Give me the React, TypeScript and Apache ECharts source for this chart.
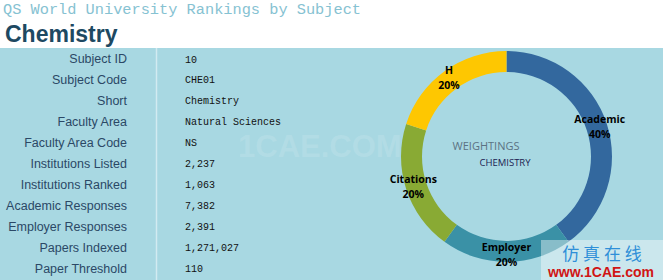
import React, { useEffect, useRef } from "react";
import * as echarts from "echarts";

const pageTitle = "QS World University Rankings by Subject";
const subjectTitle = "Chemistry";
const fieldLabels = [
  "Subject ID",
  "Subject Code",
  "Short",
  "Faculty Area",
  "Faculty Area Code",
  "Institutions Listed",
  "Institutions Ranked",
  "Academic Responses",
  "Employer Responses",
  "Papers Indexed",
  "Paper Threshold",
];
const fieldValues = [
  "10",
  "CHE01",
  "Chemistry",
  "Natural Sciences",
  "NS",
  "2,237",
  "1,063",
  "7,382",
  "2,391",
  "1,271,027",
  "110",
];
const weightNames = ["Academic", "Employer", "Citations", "H"];
const weightValues = [40, 20, 20, 20];
const weightColors = ["#33689e", "#3a91a6", "#89aa34", "#fec701"];
const centerTitle = "WEIGHTINGS";
const centerSub = "CHEMISTRY";

export default function App() {
  const ref = useRef<HTMLDivElement>(null);
  useEffect(() => {
    if (!ref.current) return;
    const chart = echarts.init(ref.current, null, { renderer: "svg" });
    const rowTop = 59;
    const rowStep = 20.97;
    const graphics: any[] = [
      { type: "rect", shape: { x: 0, y: 48, width: 663, height: 232 }, style: { fill: "#a8d8e2" }, z: -10 },
      { type: "line", shape: { x1: 156.5, y1: 48, x2: 156.5, y2: 280 }, style: { stroke: "#d2ebf1", lineWidth: 1.5 }, z: -9 },
      {
        type: "text", x: 3, y: 10,
        style: { text: pageTitle, font: "15.3px 'Liberation Mono', monospace", fill: "#86c2d2", textVerticalAlign: "middle" },
      },
      {
        type: "text", x: 5, y: 33.5,
        style: { text: subjectTitle, font: "bold 23px 'Liberation Sans', Arial, sans-serif", fill: "#1d4962", textVerticalAlign: "middle" },
      },
      {
        type: "text", x: 238, y: 146,
        style: {
          text: "1CAE.COM", fontFamily: "'Liberation Sans', Arial, sans-serif", fontWeight: "bold", fontSize: 31,
          lineHeight: 22, fill: "rgba(255,255,255,0.13)", verticalAlign: "middle",
        },
        z: -5,
      },
    ];
    fieldLabels.forEach((lab, i) => {
      graphics.push({
        type: "text", x: 127, y: rowTop + i * rowStep,
        style: { text: lab, font: "12.5px 'Liberation Sans', Arial, sans-serif", fill: "#2b4866", textAlign: "right", textVerticalAlign: "middle" },
      });
      graphics.push({
        type: "text", x: 185, y: rowTop + i * rowStep + 1,
        style: { text: fieldValues[i], font: "10px 'Liberation Mono', monospace", fill: "#111111", textAlign: "left", textVerticalAlign: "middle" },
      });
    });
    graphics.push(
      {
        type: "text", x: 486, y: 145,
        style: { text: centerTitle, font: "11px 'Open Sans', sans-serif", fill: "#5b7283", textAlign: "center", textVerticalAlign: "middle" },
      },
      {
        type: "text", x: 505, y: 162,
        style: { text: centerSub, font: "9.5px 'Open Sans', sans-serif", fill: "#1c1c52", textAlign: "center", textVerticalAlign: "middle" },
      },
      { type: "rect", shape: { x: 541, y: 240, width: 122, height: 40 }, style: { fill: "rgba(255,255,255,0.4)" }, z: 50 },
      {
        type: "text", x: 602, y: 252, z: 51,
        style: { text: "仿 真 在 线", font: "17px 'Noto Sans CJK SC', sans-serif", fill: "#2f8fd8", textAlign: "center", textVerticalAlign: "middle" },
      },
      {
        type: "text", x: 601, y: 272, z: 51,
        style: { text: "www.1CAE.com", font: "bold 14px 'Liberation Sans', Arial, sans-serif", fill: "#d01515", textAlign: "center", textVerticalAlign: "middle" },
      }
    );

    chart.setOption({
      animation: false,
      backgroundColor: "#ffffff",
      graphic: { elements: graphics },
      series: [
        {
          type: "pie",
          center: [506.5, 156.5],
          radius: [84.5, 105.5],
          startAngle: 90,
          clockwise: true,
          silent: true,
          data: weightNames.map((n, i) => ({ name: n, value: weightValues[i], itemStyle: { color: weightColors[i] } })),
          itemStyle: { borderWidth: 0 },
          label: {
            show: true,
            position: "inside",
            formatter: "{b}\n{d}%",
            color: "#000000",
            fontFamily: "'Open Sans', sans-serif",
            fontWeight: "bold",
            fontSize: 10.5,
            lineHeight: 15,
            letterSpacing: -0.4,
            textBorderWidth: 0,
          },
          labelLine: { show: false },
        },
      ],
    });
    return () => chart.dispose();
  }, []);
  return (
    <div
      ref={ref}
      style={{ position: "absolute", left: 0, top: 0, width: 663, height: 280 }}
    />
  );
}
